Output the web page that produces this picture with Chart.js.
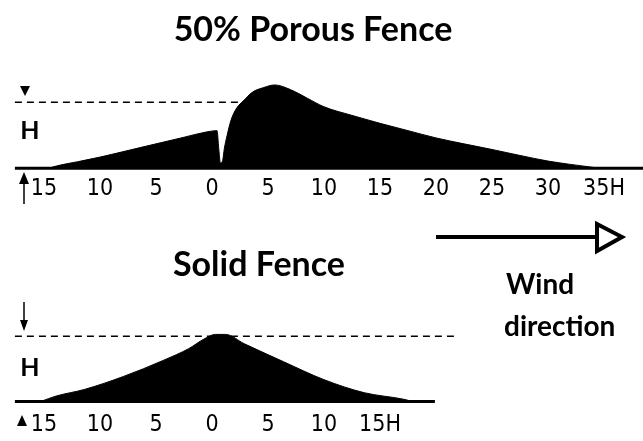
<!DOCTYPE html>
<html>
<head>
<meta charset="utf-8">
<script src="https://cdn.jsdelivr.net/npm/chart.js@4.4.1/dist/chart.umd.min.js"></script>
<style>
    html, body {margin: 0; padding: 0; background: #fff; overflow: hidden}
    #wrap {position: relative; width: 643px; height: 441px}
    canvas {position: absolute; left: 0}
    #porous {top: 0}
    #solid {top: 215px}
</style>
</head>
<body>
<div id="wrap">
    <canvas id="porous" width="643" height="215"></canvas>
    <canvas id="solid" width="643" height="226"></canvas>
</div>
<script>
// distances in fence heights (H), drift depth in H
const porousX = [-14.6, -13.8, -12, -10, -7.5, -5, -2.5, -0.5, 0.45, 0.6, 0.75, 0.95, 1.1, 1.35, 1.7, 2.2, 2.8, 3.6, 4.6, 5.6, 7, 8.5, 10, 12.5, 15, 17.5, 20, 22.5, 25, 27.5, 30, 32, 33.6, 34.7]
const porousH = [0, 0.04, 0.1, 0.17, 0.27, 0.37, 0.47, 0.55, 0.57, 0.3, 0.08, 0.12, 0.3, 0.5, 0.73, 0.91, 1.02, 1.15, 1.22, 1.26, 1.19, 1.06, 0.93, 0.8, 0.68, 0.57, 0.46, 0.37, 0.285, 0.195, 0.11, 0.06, 0.025, 0]

const solidX = [-15.3, -13.9, -11.4, -7.9, -4.3, -2.1, -0.7, 0.3, 1.2, 2.9, 6.4, 10, 13.6, 17.1, 17.9]
const solidH = [0, 0.085, 0.185, 0.385, 0.635, 0.81, 0.96, 1.03, 1.03, 0.885, 0.61, 0.335, 0.135, 0.035, 0]

const porousTicks = [-15, -10, -5, 0, 5, 10, 15, 20, 25, 30, 35]
const porousTickLabels = ["15", "10", "5", "0", "5", "10", "15", "20", "25", "30", "35H"]
const solidTicks = [-15, -10, -5, 0, 5, 10, 15]
const solidTickLabels = ["15", "10", "5", "0", "5", "10", "15H"]

const porousGround = [-17.6, 38.5]
const porousDashEnd = 2.5
const solidGround = [-17.6, 19.9]
const solidDashEnd = 21.7

const X_MIN = -18.93
const X_MAX = 38.48
const BOLD = "bold 34px Lato, 'Open Sans', sans-serif"
const TICK_FONT = "'Liberation Sans Narrow', 'DejaVu Sans Condensed', sans-serif"

const pts = (xs, ys) => xs.map((x, i) => ({x, y: ys[i]}))

function tri(ctx, a, b, c, fill){
    ctx.beginPath()
    ctx.moveTo(a[0], a[1])
    ctx.lineTo(b[0], b[1])
    ctx.lineTo(c[0], c[1])
    ctx.closePath()
    if (fill) ctx.fill(); else ctx.stroke()
}

function line(ctx, x1, y1, x2, y2, w){
    ctx.lineWidth = w
    ctx.beginPath()
    ctx.moveTo(x1, y1)
    ctx.lineTo(x2, y2)
    ctx.stroke()
}

function datasets(xs, hs, ground, dashEnd){
    return [
        {
            data: pts(xs, hs),
            borderColor: "#000",
            backgroundColor: "#000",
            borderWidth: 1,
            fill: "origin",
            pointRadius: 0,
            cubicInterpolationMode: "monotone"
        },
        {
            data: ground.map(x => ({x, y: 0})),
            borderColor: "#000",
            borderWidth: 3,
            pointRadius: 0,
            fill: false
        },
        {
            data: [{x: ground[0], y: 1}, {x: dashEnd, y: 1}],
            borderColor: "#000",
            borderWidth: 1.5,
            borderDash: [7, 5],
            pointRadius: 0,
            fill: false
        }
    ]
}

function scales(ticks, labels, yMin, yMax){
    return {
        x: {
            type: "linear",
            min: X_MIN,
            max: X_MAX,
            grid: {display: false, drawTicks: false},
            border: {display: false},
            afterBuildTicks: s => { s.ticks = ticks.map(v => ({value: v})) },
            ticks: {
                color: "#000",
                padding: 2,
                maxRotation: 0,
                autoSkip: false,
                font: {family: TICK_FONT, size: 23},
                callback: (v, i) => labels[i]
            }
        },
        y: {type: "linear", display: false, min: yMin, max: yMax}
    }
}

const porousDecor = {
    id: "porousDecor",
    afterDraw(chart){
        const ctx = chart.ctx
        ctx.save()
        ctx.fillStyle = "#000"
        ctx.strokeStyle = "#000"
        ctx.textBaseline = "middle"
        ctx.textAlign = "center"
        ctx.font = BOLD
        ctx.fillText("50% Porous Fence", 313, 30)
        ctx.font = "bold 25px Lato, sans-serif"
        ctx.fillText("H", 30, 131)
        tri(ctx, [20, 86], [30, 86], [25, 96], true)
        tri(ctx, [19, 184], [29, 184], [24, 172], true)
        line(ctx, 24, 180, 24, 204, 1.5)
        ctx.restore()
    }
}

const solidDecor = {
    id: "solidDecor",
    afterDraw(chart){
        const ctx = chart.ctx
        ctx.save()
        ctx.fillStyle = "#000"
        ctx.strokeStyle = "#000"
        ctx.textBaseline = "middle"
        ctx.textAlign = "center"
        ctx.font = BOLD
        ctx.fillText("Solid Fence", 259, 50)
        ctx.font = "bold 25px Lato, sans-serif"
        ctx.fillText("H", 30, 153)
        line(ctx, 24, 87, 24, 110, 1.5)
        tri(ctx, [20, 105], [28, 105], [24, 116], true)
        tri(ctx, [17, 211], [27, 211], [22, 200], true)

        // wind arrow
        line(ctx, 436, 22, 596, 22, 4)
        ctx.lineWidth = 4
        ctx.lineJoin = "miter"
        tri(ctx, [597, 9], [597, 36], [622, 22], false)
        ctx.textAlign = "left"
        ctx.font = "bold 28px Lato, sans-serif"
        ctx.fillText("Wind", 506, 70)
        ctx.fillText("direction", 504, 112)
        ctx.restore()
    }
}

const common = {
    responsive: false,
    animation: false,
    events: [],
    plugins: {legend: {display: false}, tooltip: {enabled: false}, title: {display: false}}
}

new Chart(document.getElementById("porous"), {
    type: "line",
    data: {datasets: datasets(porousX, porousH, porousGround, porousDashEnd)},
    options: {
        ...common,
        layout: {padding: {top: 58, bottom: 10, left: 0, right: 0}},
        scales: scales(porousTicks, porousTickLabels, -0.076, 1.667)
    },
    plugins: [porousDecor]
})

new Chart(document.getElementById("solid"), {
    type: "line",
    data: {datasets: datasets(solidX, solidH, solidGround, solidDashEnd)},
    options: {
        ...common,
        layout: {padding: {top: 79, bottom: 0, left: 0, right: 0}},
        scales: scales(solidTicks, solidTickLabels, -0.121, 1.65)
    },
    plugins: [solidDecor]
})
</script>
</body>
</html>
